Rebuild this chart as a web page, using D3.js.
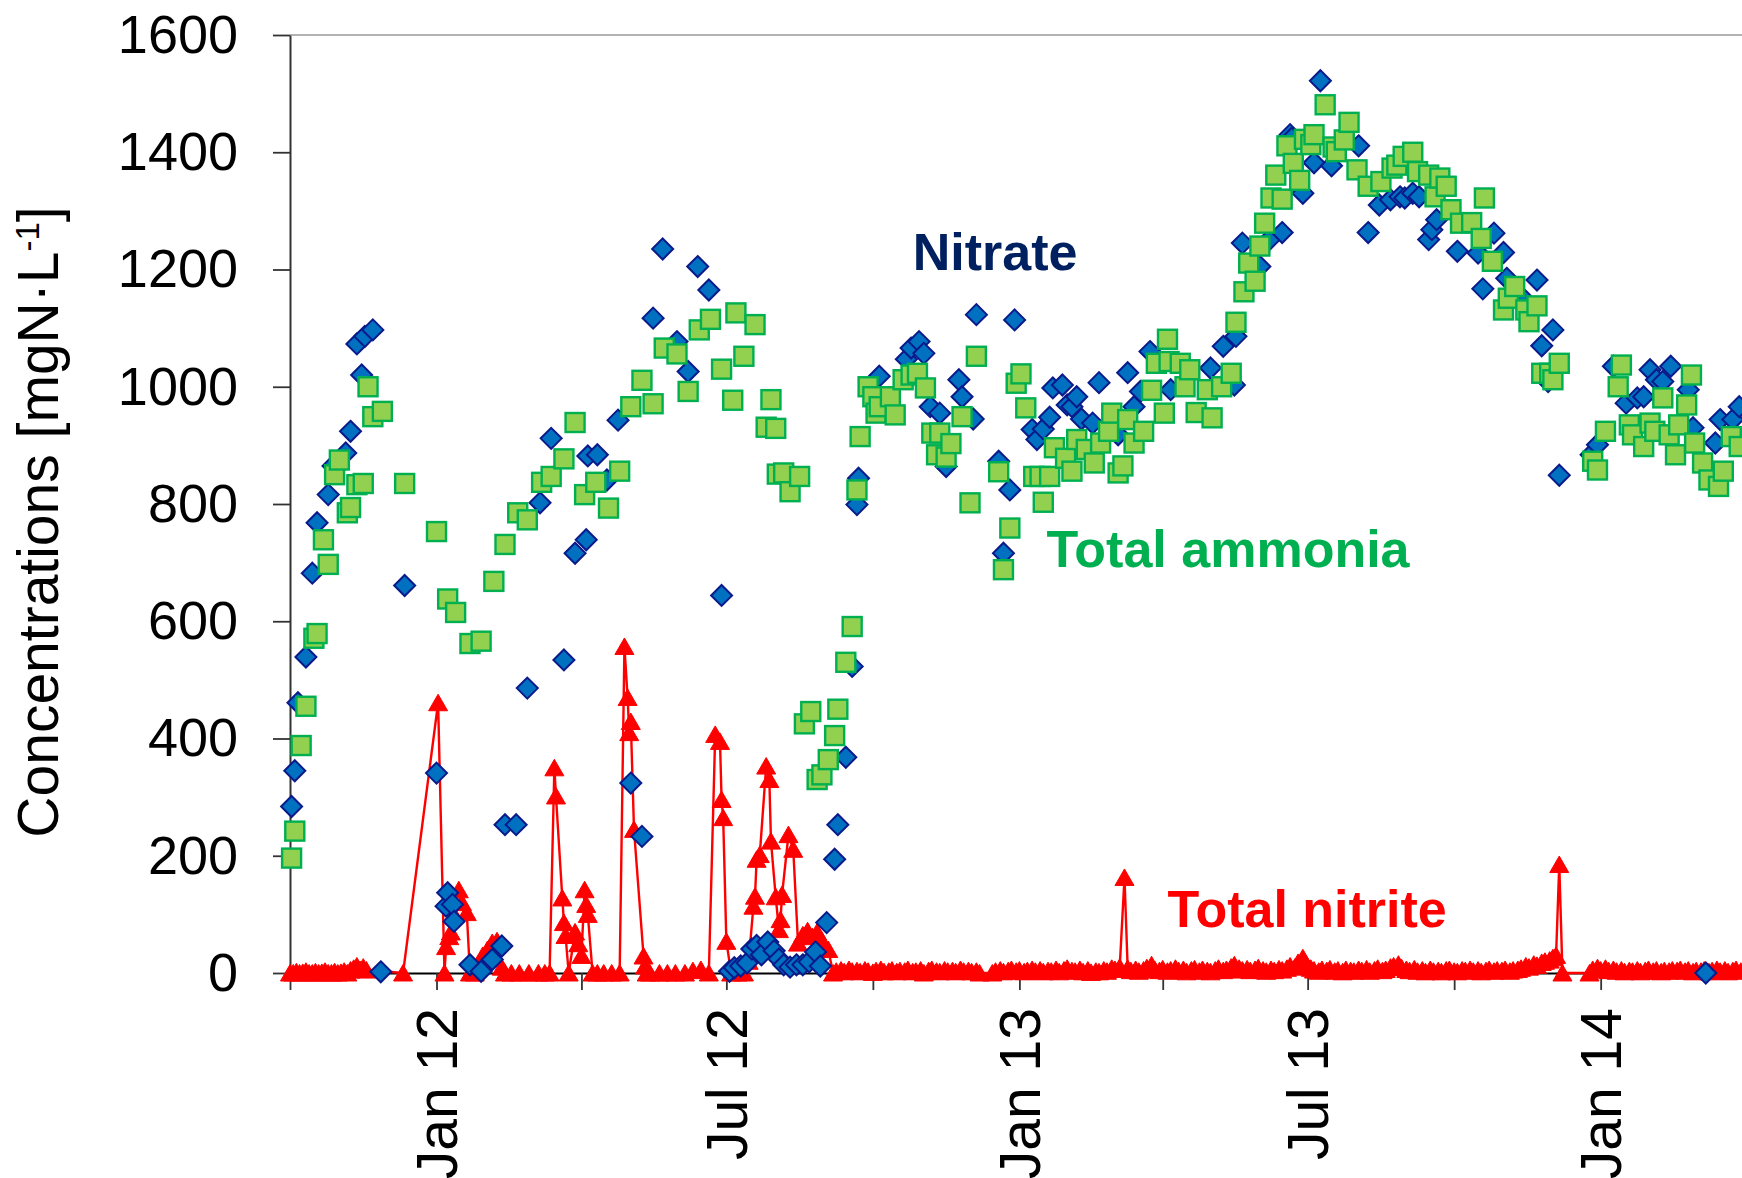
<!DOCTYPE html>
<html>
<head>
<meta charset="utf-8">
<script src="https://cdn.jsdelivr.net/npm/d3@7"></script>
<style>
  html, body { margin: 0; padding: 0; background: #fff; }
  svg { display: block; font-family: "Liberation Sans", Arial, sans-serif; }
</style>
</head>
<body>
<svg id="chart" width="1742" height="1178"></svg>
<script>
// Sampling day = days elapsed since the start date; values in mgN/L
const startDate = "2011-10-01";
const endDate = "2014-04-01";

const nitrate = [
  [1,284],[3,345],[5,461],[10,539],[14,682],[17,768],[24,816],[27,865],[35,887],[38,924],[42,1073],[45,1020],
  [47,1086],[52,1097],[57,2],[72,661],[92,341],[98,114],[99,137],[102,117],[103,88],[113,14],[120,3],[127,23],
  [133,46],[135,253],[142,253],[149,486],[157,802],[164,912],[172,534],[179,716],[186,739],[187,882],[193,884],
  [199,841],[206,943],[214,324],[221,233],[228,1117],[234,1235],[243,1077],[250,1026],[256,1205],[263,1165],[271,644],
  [276,3],[279,9],[283,12],[287,17],[290,41],[293,47],[296,31],[300,53],[304,38],[307,24],[310,14],[314,10],
  [318,14],[322,14],[326,19],[330,36],[333,12],[337,86],[342,194],[344,253],[349,368],[353,523],[356,799],[357,844],
  [370,1018],[387,1047],[390,1066],[395,1077],[398,1057],[402,966],[408,955],[412,864],[420,1012],[422,983],[429,945],
  [431,1123],[445,873],[448,716],[452,824],[455,1114],[466,927],[469,910],[473,928],[477,948],[479,998],[485,1003],
  [488,969],[491,966],[494,983],[497,945],[504,938],[508,1007],[520,918],[526,1024],[530,966],[534,992],[540,1060],
  [553,995],[578,1032],[586,1069],[593,1003],[594,1086],[598,1245],[609,1205],[615,1251],[623,1263],[628,1430],
  [629,1424],[636,1330],[643,1382],[647,1522],[654,1377],[671,1411],[677,1263],[684,1310],[691,1319],[697,1324],
  [700,1322],[705,1330],[709,1324],[715,1251],[717,1268],[720,1285],[733,1231],[746,1228],[749,1167],[756,1262],
  [762,1229],[764,1185],[773,1154],[783,1182],[786,1070],[790,1009],[793,1097],[797,849],
  [817,884],[821,901],[831,1035],[839,972],[846,981],[850,983],[854,1029],[858,1012],[862,1009],[867,1035],
  [878,995],[881,930],[889,0],[895,904],[898,944],[906,944],[910,966]
];

const ammonia = [
  [1,196],[3,242],[7,388],[10,455],[15,571],[17,579],[21,739],[24,697],[28,850],[31,875],[36,785],[38,794],
  [42,833],[46,835],[49,1000],[52,949],[58,958],[72,835],[92,753],[99,638],[104,615],[113,562],[120,566],[128,668],
  [135,731],[143,785],[149,773],[158,837],[164,847],[172,877],[179,939],[185,816],[192,837],[200,793],[207,856],
  [214,966],[221,1011],[228,971],[235,1066],[243,1056],[250,992],[257,1097],[264,1115],[271,1030],[278,977],
  [280,1126],[285,1052],[292,1106],[299,931],[302,978],[305,929],[306,851],[310,853],[314,821],[320,847],
  [323,425],[327,446],[331,330],[334,338],[338,364],[342,405],[344,450],[349,530],[353,591],[356,824],[358,915],
  [363,1000],[366,983],[368,955],[370,966],[377,983],[380,952],[385,1012],[390,1020],[394,1023],[399,998],[403,921],
  [406,884],[408,921],[412,880],[415,903],[422,949],[427,802],[431,1052],[445,855],[448,688],[452,759],[456,1006],
  [459,1022],[462,964],[467,847],[471,847],[473,803],[477,847],[480,896],[487,878],[491,856],[494,910],[500,893],
  [505,870],[509,904],[514,924],[516,955],[520,853],[523,865],[526,944],[530,904],[536,924],[541,994],[544,1040],
  [549,955],[551,1081],[552,1043],[559,1040],[562,1000],[565,1029],[569,956],[576,995],[579,947],[585,1000],
  [591,1023],[594,1110],[599,1162],[602,1211],[606,1180],[609,1240],[612,1279],[616,1322],[619,1361],[623,1320],
  [626,1411],[630,1381],[634,1352],[637,1422],[641,1413],[643,1430],[650,1481],[655,1409],[657,1401],[662,1421],
  [665,1451],[670,1370],[677,1342],[685,1350],[692,1373],[695,1378],[699,1393],[705,1400],[708,1367],[715,1361],
  [719,1324],[722,1356],[726,1342],[729,1302],[735,1279],[742,1280],[748,1253],[750,1322],[755,1214],[762,1131],
  [765,1151],[769,1171],[776,1131],[778,1111],[783,1138],[786,1023],[791,1023],[793,1012],[797,1040],
  [818,873],[821,858],[826,924],[834,1000],[836,1037],[841,935],[843,918],[850,898],[854,938],[857,924],[862,981],
  [866,918],[870,884],[872,935],[877,969],[880,1020],[882,904],[887,870],[891,841],[897,830],[900,856],[905,915],[910,898]
];

const nitrite = [
  [0,0],[2,0],[4,2],[6,0],[8,1],[10,3],[12,0],[14,0],[16,2],[18,0],[20,1],[22,3],[24,0],[26,0],[28,2],[30,0],
  [32,1],[34,3],[36,0],[38,5],[40,8],[42,12],[44,6],[46,10],[48,5],
  [71,0],[93,461],[97,0],[98,45],[100,62],[101,70],[103,100],[106,142],[108,120],[111,103],[113,0],[116,0],[118,15],
  [121,30],[124,40],[127,52],[130,55],[133,10],[135,0],[139,0],[144,0],[150,0],[156,0],[160,0],[163,0],[166,350],
  [167,302],[171,128],[172,86],[173,64],[175,0],[179,70],[181,50],[183,30],[185,142],[186,117],[187,100],[190,0],
  [193,0],[197,0],[202,0],[207,0],[210,557],[212,470],[213,410],[214,429],[216,245],[222,29],[223,12],[224,0],
  [226,0],[232,0],[237,0],[242,0],[248,0],[253,4],[258,6],[263,0],[267,407],[270,395],[271,296],[272,265],[274,54],
  [277,0],[281,0],[285,0],[288,20],[291,114],[292,131],[293,194],[295,202],[299,353],[301,330],[302,225],[305,130],
  [307,74],[308,91],[309,134],[313,236],[316,211],[319,51],[322,65],[325,72],[328,62],[331,70],[334,55],[338,40],[341,0],
  [343,3],[346,5],[348,2],[351,6],[353,3],[356,4],[358,2],[361,5],[363,3],[366,1],[368,4],[371,6],[373,2],[376,3],
  [378,5],[381,2],[383,4],[386,3],[388,6],[391,2],[393,3],[396,5],[398,0],[401,4],[403,6],[406,3],[408,2],[411,5],
  [413,3],[416,4],[418,2],[421,6],[423,3],[426,4],[428,2],[431,3],[433,0],
  [441,0],[443,3],[446,5],[448,2],[451,4],[453,6],[456,3],[458,5],[461,2],[463,4],[466,6],[468,3],[471,5],[473,2],
  [476,4],[478,3],[481,6],[483,2],[486,5],[488,8],[491,4],[493,3],[496,6],[498,2],[501,5],[503,1],[506,3],[508,2],
  [511,5],[513,3],[516,8],[518,6],[521,10],[524,163],[526,8],[528,4],[531,6],[533,3],[536,5],[538,9],[541,14],
  [543,6],[546,4],[548,7],[551,3],[553,5],[556,8],[558,4],[561,6],[563,2],[566,5],[568,7],[571,3],[573,6],[576,4],
  [578,2],[581,5],[583,8],[586,4],[588,6],[591,10],[593,14],[596,8],[598,5],[601,7],[603,4],[606,6],[608,9],[611,5],
  [613,3],[616,6],[618,4],[621,7],[623,5],[626,8],[628,12],[631,10],[633,18],[636,26],[638,16],[641,8],[643,5],
  [646,3],[648,6],[651,4],[653,7],[656,3],[658,5],[661,2],[663,6],[666,4],[668,3],[671,6],[673,4],[676,7],[678,3],
  [681,5],[683,8],[686,4],[688,6],[691,10],[693,12],[696,15],[698,9],[701,6],[703,4],[706,7],[708,3],[711,5],[713,2],
  [716,6],[718,3],[721,4],[723,2],[726,5],[728,6],[731,3],[733,2],[736,5],[738,4],[741,6],[743,3],[746,5],[748,2],
  [751,4],[753,6],[756,3],[758,5],[761,4],[763,6],[766,3],[768,5],[771,6],[773,8],[776,12],[778,10],[781,15],
  [783,13],[786,18],[788,20],[791,22],[793,26],[795,30],[797,185],[799,0],
  [816,0],[818,6],[821,9],[823,5],[826,8],[828,4],[831,6],[833,3],[836,5],[838,2],[841,4],[843,3],[846,5],[848,2],
  [851,4],[853,6],[856,3],[858,5],[861,2],[863,4],[866,3],[868,5],[871,4],[873,6],[876,3],[878,5],[881,2],[883,4],
  [886,3],[888,5],[891,2],[893,4],[896,6],[898,3],[901,5],[903,2],[906,4],[908,6],[911,3],[913,5]
];

const yTicks = [0, 200, 400, 600, 800, 1000, 1200, 1400, 1600];
const xTickDates = ["2011-10-01","2012-01-01","2012-04-01","2012-07-01","2012-10-01","2013-01-01",
                    "2013-04-01","2013-07-01","2013-10-01","2014-01-01","2014-04-01"];
const xTickLabels = ["", "Jan 12", "", "Jul 12", "", "Jan 13", "", "Jul 13", "", "Jan 14", ""];
const seriesNames = ["Nitrate", "Total ammonia", "Total nitrite"];
const yTitle = "Concentrations [mgN\u00B7L";
const yTitleExp = "-1";

// ---- layout ----
const svg = d3.select("#chart");
const plot = { left: 290, right: 1744, top: 35, bottom: 973 };
const parse = d3.utcParse("%Y-%m-%d");
const t0 = parse(startDate);
const dayToDate = d => d3.utcDay.offset(t0, d);

const x = d3.scaleUtc().domain([t0, parse(endDate)]).range([plot.left, plot.right]);
const y = d3.scaleLinear().domain([0, 1600]).range([plot.bottom, plot.top]);

const COL = {
  nitrateFill: "#0070C0", nitrateStroke: "#0A1A8A",
  ammoniaFill: "#92D050", ammoniaStroke: "#00B050",
  nitrite: "#FF0000", nitrateText: "#002060", ammoniaText: "#00B050"
};
const FONT = "'Liberation Sans', Arial, sans-serif";

// ---- frame ----
svg.append("line")
  .attr("x1", plot.left).attr("x2", plot.right)
  .attr("y1", plot.top).attr("y2", plot.top)
  .attr("stroke", "#9a9a9a").attr("stroke-width", 1.6);

// ---- y axis ----
const yAxis = svg.append("g")
  .attr("transform", `translate(${plot.left},0)`)
  .call(d3.axisLeft(y).tickValues(yTicks).tickFormat(d3.format("d"))
    .tickSize(17).tickSizeOuter(0).tickPadding(35));
yAxis.select(".domain").attr("stroke", "#333").attr("stroke-width", 2);
yAxis.selectAll(".tick line").attr("stroke", "#333").attr("stroke-width", 1.8);
yAxis.selectAll(".tick text")
  .attr("font-size", 54).attr("fill", "#000").attr("font-family", FONT);

// ---- x axis ----
const xAxis = svg.append("g")
  .attr("transform", `translate(0,${plot.bottom})`)
  .call(d3.axisBottom(x)
    .tickValues(xTickDates.map(parse))
    .tickSize(17).tickSizeOuter(0)
    .tickFormat((d, i) => xTickLabels[i]));
xAxis.select(".domain").attr("stroke", "#000").attr("stroke-width", 2);
xAxis.selectAll(".tick line").attr("stroke", "#333").attr("stroke-width", 1.8);
xAxis.selectAll(".tick text")
  .attr("font-size", 57).attr("fill", "#000").attr("font-family", FONT)
  .attr("transform", "rotate(-90)")
  .attr("text-anchor", "end")
  .attr("x", -35).attr("y", 0).attr("dy", "0.35em");

// ---- y axis title ----
const title = svg.append("text")
  .attr("transform", "translate(58,522) rotate(-90)")
  .attr("text-anchor", "middle")
  .attr("font-size", 57).attr("fill", "#000").attr("font-family", FONT);
title.append("tspan").text(yTitle);
title.append("tspan").attr("font-size", 33).attr("dy", -19).text(yTitleExp);
title.append("tspan").attr("dy", 19).text("]");

// ---- series ----
const diamond = "M0,-10.5L10.5,0L0,10.5L-10.5,0Z";
const triangle = "M0,-8.5L9.5,8L-9.5,8Z";
const SQ = 19;

// Total nitrite: connected line with triangle markers
const line = d3.line()
  .x(d => x(dayToDate(d[0])))
  .y(d => y(d[1]));
svg.append("path")
  .datum(nitrite)
  .attr("d", line)
  .attr("fill", "none")
  .attr("stroke", COL.nitrite)
  .attr("stroke-width", 2.4)
  .attr("stroke-linejoin", "round");
svg.append("g").selectAll("path")
  .data(nitrite)
  .join("path")
  .attr("d", triangle)
  .attr("transform", d => `translate(${x(dayToDate(d[0]))},${y(d[1])})`)
  .attr("fill", COL.nitrite)
  .attr("stroke", COL.nitrite)
  .attr("stroke-width", 1);

// Nitrate: diamonds
svg.append("g").selectAll("path")
  .data(nitrate)
  .join("path")
  .attr("d", diamond)
  .attr("transform", d => `translate(${x(dayToDate(d[0]))},${y(d[1])})`)
  .attr("fill", COL.nitrateFill)
  .attr("stroke", COL.nitrateStroke)
  .attr("stroke-width", 2);

// Total ammonia: squares
svg.append("g").selectAll("rect")
  .data(ammonia)
  .join("rect")
  .attr("x", d => x(dayToDate(d[0])) - SQ / 2)
  .attr("y", d => y(d[1]) - SQ / 2)
  .attr("width", SQ).attr("height", SQ)
  .attr("fill", COL.ammoniaFill)
  .attr("stroke", COL.ammoniaStroke)
  .attr("stroke-width", 2.4);

// ---- series labels ----
const labelStyle = sel => sel
  .attr("font-size", 52).attr("font-weight", "bold").attr("font-family", FONT);
svg.append("text").call(labelStyle)
  .attr("x", x(dayToDate(391))).attr("y", y(1199))
  .attr("fill", COL.nitrateText).text(seriesNames[0]);
svg.append("text").call(labelStyle)
  .attr("x", x(dayToDate(475))).attr("y", y(693))
  .attr("fill", COL.ammoniaText).text(seriesNames[1]);
svg.append("text").call(labelStyle)
  .attr("x", x(dayToDate(551))).attr("y", y(78))
  .attr("fill", COL.nitrite).text(seriesNames[2]);
</script>
</body>
</html>
